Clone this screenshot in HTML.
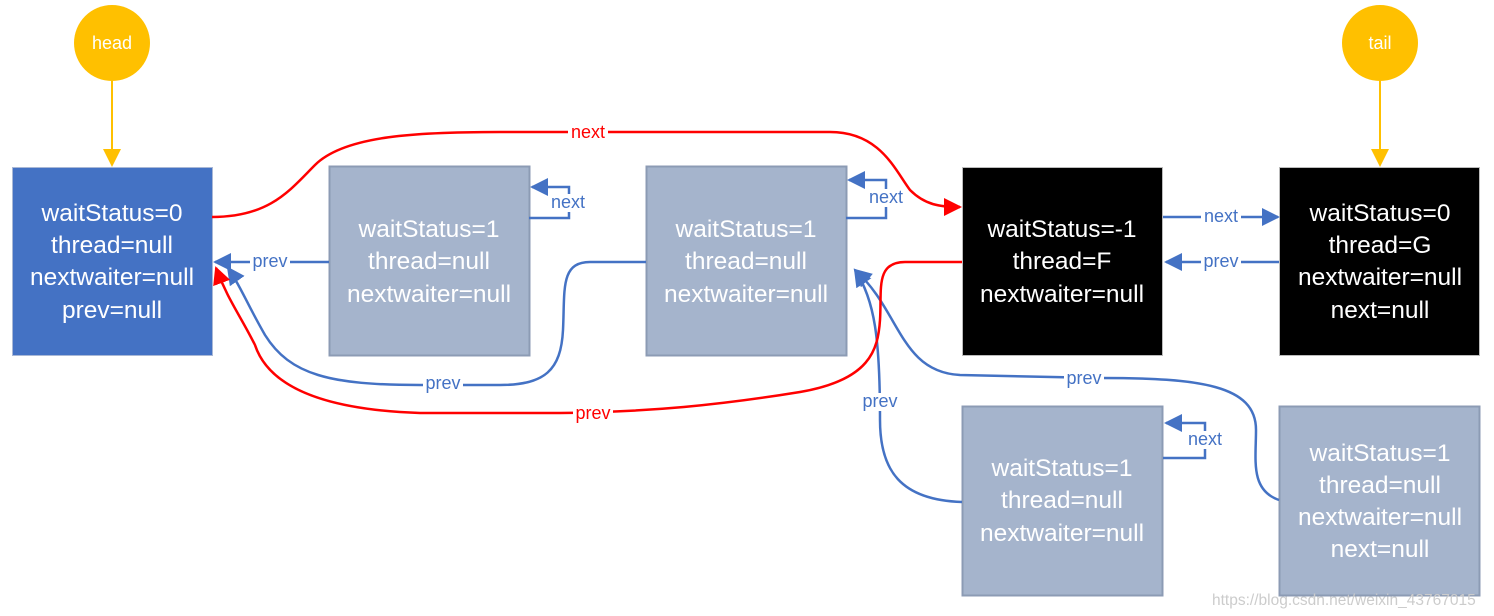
<!DOCTYPE html>
<html><head><meta charset="utf-8"><style>
html,body{margin:0;padding:0;background:#fff;}
svg{display:block;font-family:"Liberation Sans",sans-serif;}
.t{fill:#fff;font-size:24.5px;text-anchor:middle;}
.l{font-size:18px;text-anchor:middle;dominant-baseline:middle;}
</style></head><body>
<svg width="1494" height="616" viewBox="0 0 1494 616">
<defs>
<marker id="ab2" markerWidth="18" markerHeight="18" refX="16" refY="9" orient="auto" markerUnits="userSpaceOnUse" viewBox="0 0 18 18"><path d="M0,0 L18,9 L0,18z" fill="#4472C4"/></marker>
<marker id="ar" markerWidth="18" markerHeight="18" refX="16" refY="9" orient="auto" markerUnits="userSpaceOnUse" viewBox="0 0 18 18"><path d="M0,0 L18,9 L0,18z" fill="#FF0000"/></marker>
<marker id="ay" markerWidth="18" markerHeight="18" refX="16" refY="9" orient="auto" markerUnits="userSpaceOnUse" viewBox="0 0 18 18"><path d="M0,0 L18,9 L0,18z" fill="#FFC000"/></marker>
</defs>
<circle cx="112" cy="43" r="38" fill="#FFC000"/>
<text x="112" y="49" style="fill:#fff;font-size:18px;text-anchor:middle">head</text>
<circle cx="1380" cy="43" r="38" fill="#FFC000"/>
<text x="1380" y="49" style="fill:#fff;font-size:18px;text-anchor:middle">tail</text>
<line x1="112" y1="81" x2="112" y2="165" stroke="#FFC000" stroke-width="2" marker-end="url(#ay)"/>
<line x1="1380" y1="81" x2="1380" y2="165" stroke="#FFC000" stroke-width="2" marker-end="url(#ay)"/>
<rect x="12.5" y="167.5" width="200" height="188" fill="#4472C4" stroke="#A9B8D6"/>
<rect x="329.5" y="166.5" width="200" height="189" fill="#A5B4CC" stroke="#8C9BB4" stroke-width="2"/>
<rect x="646.5" y="166.5" width="200" height="189" fill="#A5B4CC" stroke="#8C9BB4" stroke-width="2"/>
<rect x="962.5" y="167.5" width="200" height="188" fill="#000" stroke="#bbb"/>
<rect x="1279.5" y="167.5" width="200" height="188" fill="#000" stroke="#bbb"/>
<rect x="962.5" y="406.5" width="200" height="189" fill="#A5B4CC" stroke="#8C9BB4" stroke-width="2"/>
<rect x="1279.5" y="406.5" width="200" height="189" fill="#A5B4CC" stroke="#8C9BB4" stroke-width="2"/>
<g class="t">
<text x="112" y="221">waitStatus=0</text><text x="112" y="253">thread=null</text><text x="112" y="285">nextwaiter=null</text><text x="112" y="318">prev=null</text>
<text x="429" y="237">waitStatus=1</text><text x="429" y="269">thread=null</text><text x="429" y="302">nextwaiter=null</text>
<text x="746" y="237">waitStatus=1</text><text x="746" y="269">thread=null</text><text x="746" y="302">nextwaiter=null</text>
<text x="1062" y="237">waitStatus=-1</text><text x="1062" y="269">thread=F</text><text x="1062" y="302">nextwaiter=null</text>
<text x="1380" y="221">waitStatus=0</text><text x="1380" y="253">thread=G</text><text x="1380" y="285">nextwaiter=null</text><text x="1380" y="318">next=null</text>
<text x="1062" y="476">waitStatus=1</text><text x="1062" y="508">thread=null</text><text x="1062" y="541">nextwaiter=null</text>
<text x="1380" y="461">waitStatus=1</text><text x="1380" y="493">thread=null</text><text x="1380" y="525">nextwaiter=null</text><text x="1380" y="557">next=null</text>
</g>
<g fill="none" stroke="#4472C4" stroke-width="2.5">
<line x1="329" y1="262" x2="215" y2="262" marker-end="url(#ab2)"/>
<polyline points="529,218 569,218 569,187 532,187" marker-end="url(#ab2)"/>
<polyline points="846,218 886,218 886,180 849,180" marker-end="url(#ab2)"/>
<polyline points="1163,458 1205,458 1205,423 1166,423" marker-end="url(#ab2)"/>
<line x1="1163" y1="217" x2="1278" y2="217" marker-end="url(#ab2)"/>
<line x1="1279" y1="262" x2="1166" y2="262" marker-end="url(#ab2)"/>
<path d="M646,262 L590,262 C560,262 565,290 563,330 C561,370 545,385 500,385 L420,385 C330,385 290,375 265,335 C245,300 240,285 228,268" marker-end="url(#ab2)"/>
<path d="M962,502 C900,500 880,470 880,420 C880,340 875,300 855,270" marker-end="url(#ab2)"/>
<path d="M1279,500 C1250,490 1256,460 1256,430 C1256,385 1200,378 1100,378 L960,375 C900,372 900,310 855,270" marker-end="url(#ab2)"/>
</g>
<g fill="none" stroke="#FF0000" stroke-width="2.5">
<path d="M212,217 C270,217 290,190 315,165 C345,135 420,132 500,132 L830,132 C880,132 895,170 910,190 C925,205 940,207 960,207" marker-end="url(#ar)"/>
<path d="M962,262 L905,262 C875,262 882,290 880,320 C878,350 870,380 800,392 C720,405 650,412 560,413 L420,413 C330,410 270,390 255,345 C240,315 228,300 216,268" marker-end="url(#ar)"/>
</g>
<g class="l">
<rect x="568" y="124" width="40" height="18" fill="#fff"/><text x="588" y="133" fill="#FF0000">next</text>
<rect x="250" y="253" width="40" height="18" fill="#fff"/><text x="270" y="262" fill="#4472C4">prev</text>
<rect x="548" y="194" width="40" height="18" fill="#fff"/><text x="568" y="203" fill="#4472C4">next</text>
<rect x="866" y="189" width="40" height="18" fill="#fff"/><text x="886" y="198" fill="#4472C4">next</text>
<rect x="423" y="375" width="40" height="18" fill="#fff"/><text x="443" y="384" fill="#4472C4">prev</text>
<rect x="573" y="405" width="40" height="18" fill="#fff"/><text x="593" y="414" fill="#FF0000">prev</text>
<rect x="1201" y="208" width="40" height="18" fill="#fff"/><text x="1221" y="217" fill="#4472C4">next</text>
<rect x="1201" y="253" width="40" height="18" fill="#fff"/><text x="1221" y="262" fill="#4472C4">prev</text>
<rect x="1185" y="431" width="40" height="18" fill="#fff"/><text x="1205" y="440" fill="#4472C4">next</text>
<rect x="860" y="393" width="40" height="18" fill="#fff"/><text x="880" y="402" fill="#4472C4">prev</text>
<rect x="1064" y="370" width="40" height="18" fill="#fff"/><text x="1084" y="379" fill="#4472C4">prev</text>
</g>
<text x="1212" y="605" style="font-size:15.5px;fill:#ccc">https://blog.csdn.net/weixin_43767015</text>
</svg>
</body></html>
